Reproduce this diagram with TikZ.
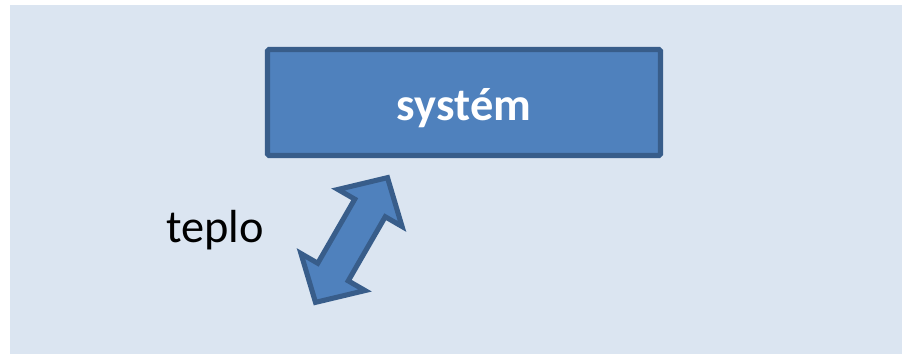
\documentclass[tikz,border=0pt]{standalone}
\usepackage{fontspec}
\setmainfont{Carlito}
\usetikzlibrary{positioning}
\definecolor{pozadi}{HTML}{DBE5F1}
\definecolor{vypln}{HTML}{4F81BD}
\definecolor{okraj}{HTML}{385D8A}
\tikzset{
  blok/.style={draw=okraj, fill=vypln, line width=3.6pt, rounded corners=1pt},
  velky/.style={font=\fontsize{33}{40}\selectfont}
}

\begin{document}
\begin{tikzpicture}
		%%%%% POZADI %%%%%
		\useasboundingbox (0, 0) rectangle (22.55, -8.85);
		\fill[pozadi] (0.25, -0.125) rectangle (22.55, -8.85);
		
		%%%%% SYSTEM %%%%%
		\node[blok, velky, text=white, minimum width=9.825cm, minimum height=2.65cm,
		      inner sep=0pt, text height=0.9cm, text depth=0.025cm] (system) at (11.6, -2.5625)
		      {\bfseries systém};
		
		%%%%% TEPLO %%%%%
		\node[velky, anchor=base west, inner sep=0pt] (teplo) at (4.15, -6.05) {teplo};
		
		\begin{scope}[shift={(8.7875, -6.0)}, rotate=60]
			\draw[blok, rounded corners=0pt, line join=miter]
				(1.8, 0) -- (0.925, 0.925) -- (0.925, 0.44) -- (-0.925, 0.44)
				-- (-0.925, 0.925) -- (-1.8, 0) -- (-0.925, -0.925) -- (-0.925, -0.44)
				-- (0.925, -0.44) -- (0.925, -0.925) -- cycle;
		\end{scope}
		
\end{tikzpicture}
\end{document}
